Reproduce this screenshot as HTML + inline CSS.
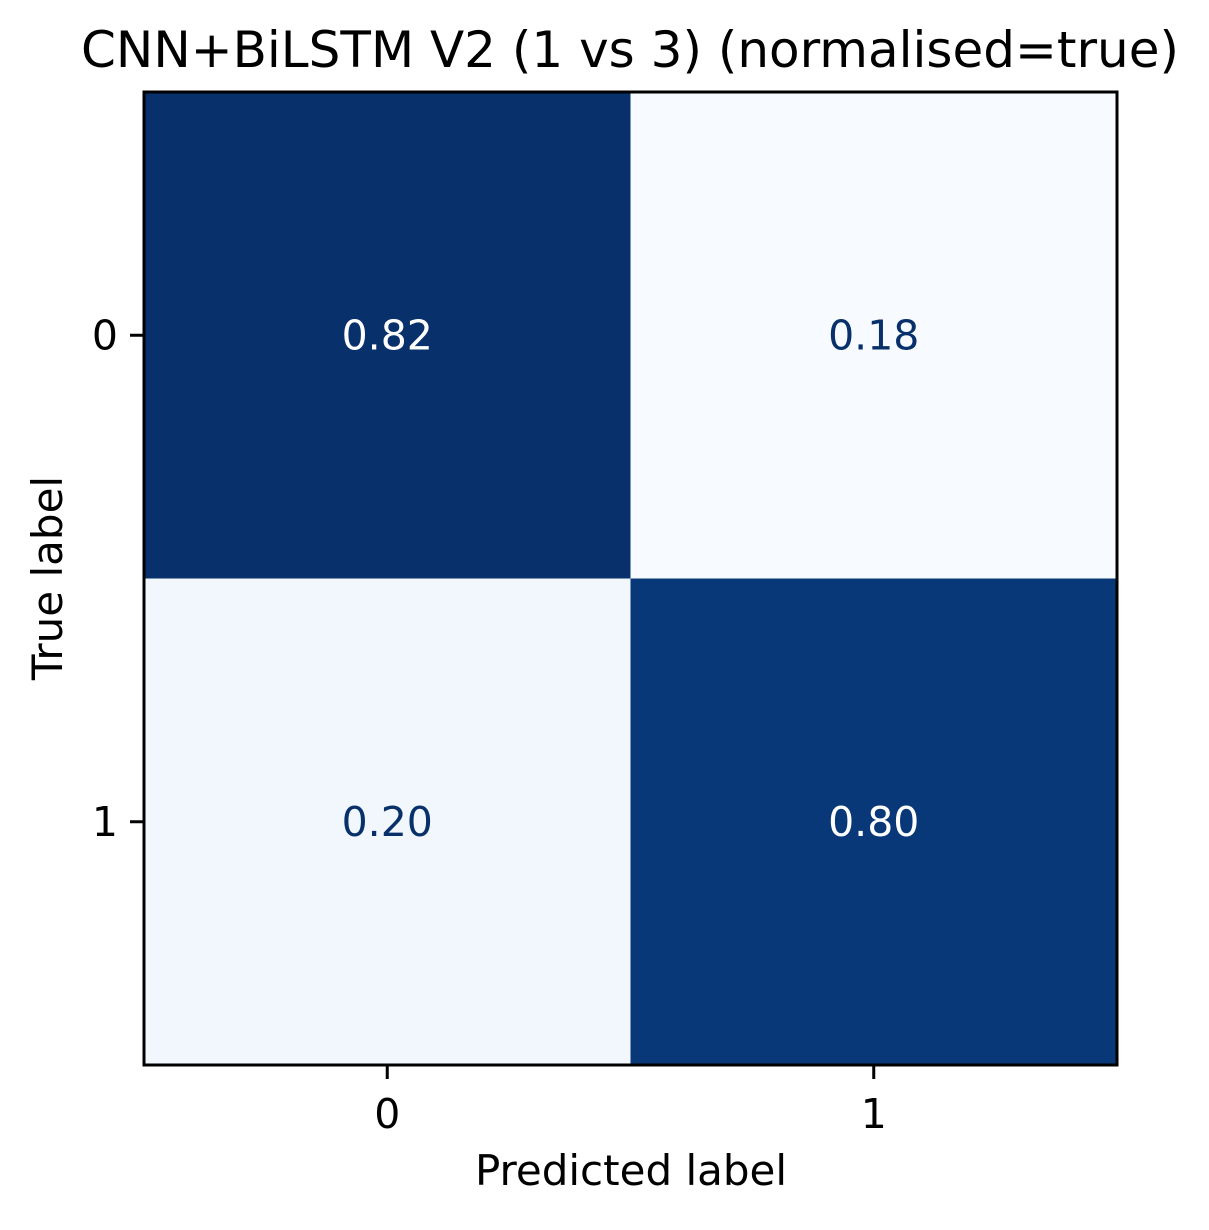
<!DOCTYPE html>
<html><head><meta charset="utf-8"><style>
body{margin:0;background:#fff}
svg text{font-family:"DejaVu Sans","Liberation Sans",sans-serif}
</style></head><body>
<svg id="chart" width="1209" height="1225" viewBox="0 0 1209 1225" xmlns="http://www.w3.org/2000/svg">
<rect width="1209" height="1225" fill="#fff"/>
<text x="630" y="67" font-size="50" text-anchor="middle">CNN+BiLSTM V2 (1 vs 3) (normalised=true)</text>
<g id="cells"></g>
<g id="axes"></g>
<text x="631" y="1185" font-size="42" text-anchor="middle">Predicted label</text>
<text transform="translate(62,578) rotate(-90)" font-size="42" text-anchor="middle">True label</text>
</svg>
<script>
const xCategories = ["0","1"];
const yCategories = ["0","1"];
const row0 = [0.82, 0.18];
const row1 = [0.20, 0.80];
const values = [row0, row1];

const NS="http://www.w3.org/2000/svg";
const L=144,R=1117,T=92,B=1065;
const cw=(R-L)/xCategories.length, ch=(B-T)/yCategories.length;
const xPos=i=>L+i*cw, yPos=j=>T+j*ch;
const all=values.flat(), vmin=Math.min(...all), vmax=Math.max(...all);
const stops=[[247,251,255],[222,235,247],[198,219,239],[158,202,225],[107,174,214],[66,146,198],[33,113,181],[8,81,156],[8,48,107]];
function blues(t){t=Math.max(0,Math.min(1,t));const s=t*8,i=Math.min(7,Math.floor(s)),f=s-i;
 const c=stops[i].map((v,k)=>Math.round(v+(stops[i+1][k]-v)*f));return `rgb(${c})`;}
const cells=document.getElementById('cells');
values.forEach((row,j)=>row.forEach((v,i)=>{
 const t=(v-vmin)/(vmax-vmin||1);
 const r=document.createElementNS(NS,'rect');
 r.setAttribute('x',xPos(i));r.setAttribute('y',yPos(j));
 r.setAttribute('width',cw);r.setAttribute('height',ch);r.setAttribute('fill',blues(t));
 
 
 cells.appendChild(r);
 const tx=document.createElementNS(NS,'text');
 tx.setAttribute('x',xPos(i)+cw/2);tx.setAttribute('y',yPos(j)+ch/2+14);
 tx.setAttribute('font-size','41');tx.setAttribute('text-anchor','middle');
 tx.setAttribute('fill',t>0.5?'#ffffff':'#08306b');
 tx.textContent=v.toFixed(2);
 
 
 cells.appendChild(tx);
}));
const ax=document.getElementById('axes');
const fr=document.createElementNS(NS,'rect');
fr.setAttribute('x',L);fr.setAttribute('y',T);fr.setAttribute('width',R-L);fr.setAttribute('height',B-T);
fr.setAttribute('fill','none');fr.setAttribute('stroke','#000');fr.setAttribute('stroke-width','3');


ax.appendChild(fr);
xCategories.forEach((c,i)=>{
 const x=xPos(i)+cw/2;
 const l=document.createElementNS(NS,'line');
 l.setAttribute('x1',x);l.setAttribute('x2',x);l.setAttribute('y1',B);l.setAttribute('y2',B+14);
 l.setAttribute('stroke','#000');l.setAttribute('stroke-width','3');
 
 
 ax.appendChild(l);
 const t=document.createElementNS(NS,'text');
 t.setAttribute('x',x);t.setAttribute('y',B+63);t.setAttribute('font-size','41');t.setAttribute('text-anchor','middle');
 t.textContent=c;
 
 
 ax.appendChild(t);
});
yCategories.forEach((c,j)=>{
 const y=yPos(j)+ch/2;
 const l=document.createElementNS(NS,'line');
 l.setAttribute('x1',L-14);l.setAttribute('x2',L);l.setAttribute('y1',y);l.setAttribute('y2',y);
 l.setAttribute('stroke','#000');l.setAttribute('stroke-width','3');
 
 
 ax.appendChild(l);
 const t=document.createElementNS(NS,'text');
 t.setAttribute('x',L-26);t.setAttribute('y',y+14);t.setAttribute('font-size','41');t.setAttribute('text-anchor','end');
 t.textContent=c;
 
 
 ax.appendChild(t);
});
</script>
</body></html>
